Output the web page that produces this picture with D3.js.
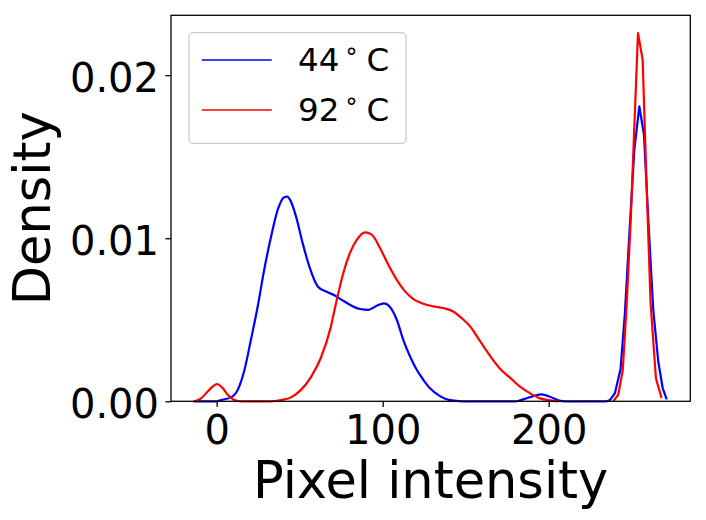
<!DOCTYPE html>
<meta charset="utf-8">
<style>
 body { margin: 0; background: #fff; }
 text { font-family: "DejaVu Sans", sans-serif; fill: #000; }
 .tick line { stroke: #000; stroke-width: 1.3; }
</style>
<body>
<script src="https://d3js.org/d3.v7.min.js"></script>
<script>

var width = 706
var height = 520

// KDE curves: [pixel intensity, density]
var blue44 = [
  [-14, 0], [0, 0], [2.6, 0.00008], [8.7, 0.00024], [12.7, 0.0007], [16.7, 0.0019],
  [20.7, 0.0038], [24.7, 0.0058], [28.7, 0.0081], [32.8, 0.0101], [36.8, 0.01175],
  [40.5, 0.0125], [42.5, 0.01255], [44.4, 0.01232], [47.8, 0.01134], [51.8, 0.0097],
  [55.8, 0.00827], [60.9, 0.00704], [65.9, 0.00673], [70.9, 0.0065], [74.9, 0.00625],
  [80.3, 0.00592], [86.4, 0.00566], [91.4, 0.00561], [96.4, 0.00586], [100.8, 0.006],
  [104.4, 0.00578], [108.5, 0.005], [112.4, 0.00377], [116.5, 0.00275], [120.5, 0.00193],
  [124.5, 0.00132], [128.5, 0.0008], [134.5, 0.00032], [140.6, 0.00007], [148, 0],
  [180, 0], [184.7, 0.00012], [190.7, 0.00032], [195.8, 0.00043], [200.8, 0.00028],
  [205.8, 0.00006], [210, 0], [235, 0], [236.9, 0.00007], [239.9, 0.0005], [243.3, 0.002],
  [245.9, 0.0054], [248.5, 0.0101], [251.6, 0.01543], [254.6, 0.01808], [257.4, 0.01635],
  [260, 0.01113], [263, 0.0056], [266, 0.00244], [268.7, 0.0008], [271.1, 0.00012]
]
var red92 = [
  [-13.4, 0], [-9.4, 0.00018], [-5.4, 0.0006], [-2.4, 0.0009], [0.2, 0.00106], [3.7, 0.0008],
  [6.7, 0.0004], [10.7, 0.00008], [15, 0], [32, 0], [38.8, 0.00008], [44.8, 0.00024],
  [50.8, 0.0007], [56.9, 0.0015], [62.9, 0.0027], [68.6, 0.0045], [72.3, 0.0062],
  [76.3, 0.00787], [80.3, 0.0091], [84.4, 0.0099], [89.4, 0.01036], [93.4, 0.01022],
  [98.4, 0.0094], [103.4, 0.00837], [108.5, 0.00745], [113.5, 0.00674], [118.5, 0.00627],
  [124.5, 0.00598], [130.5, 0.00582], [136.5, 0.00572], [142.5, 0.00551], [147.6, 0.0051],
  [152.6, 0.0046], [158.6, 0.0037], [164.6, 0.0028], [170.7, 0.002], [176.7, 0.00145],
  [182.7, 0.0009], [188.7, 0.0005], [194.8, 0.00018], [200.8, 0.00006], [206, 0],
  [238.9, 0], [241.9, 0.0004], [244.6, 0.0019], [247, 0.006], [249.4, 0.0111],
  [251.6, 0.01686], [253.8, 0.02258], [256.6, 0.02095], [259, 0.01318], [261.4, 0.006],
  [264.6, 0.0014], [268, 0.0002]
]

var xTicks = [0, 100, 200]
var yTicks = [0, 0.01, 0.02]
var seriesNames = ["44", "92"]
var seriesColors = ["#0000ff", "#ff0000"]

var box = {left: 171, right: 690.3, top: 15.3, bottom: 401.3}

var svg = d3.select("body")
			.append("svg")
			.attr("width", width)
			.attr("height", height);

var x = d3.scaleLinear().domain([-27.5, 285.3]).range([box.left, box.right]);
var y = d3.scaleLinear().domain([0, 0.02367]).range([box.bottom, box.top]);

// smooth where the samples are sparse, straight segments on the spike like the original
var line = d3.line()
  .x(function (d) { return x(d[0]); })
  .y(function (d) { return y(d[1]); })
  .curve(d3.curveMonotoneX);
var spike = d3.line()
  .x(function (d) { return x(d[0]); })
  .y(function (d) { return y(d[1]); });

[blue44, red92].forEach(function (s, i) {
  var body = s.filter(function (d) { return d[0] <= 236; });
  var peak = s.filter(function (d) { return d[0] >= 235; });
  svg.append("path")
    .datum(body)
    .attr("fill", "none")
    .attr("stroke", seriesColors[i])
    .attr("stroke-width", 2.2)
    .attr("stroke-linejoin", "round")
    .attr("d", line);
  svg.append("path")
    .datum(peak)
    .attr("fill", "none")
    .attr("stroke", seriesColors[i])
    .attr("stroke-width", 2.2)
    .attr("stroke-linejoin", "round")
    .attr("d", spike);
});

// axes
var xAxis = svg.append("g")
  .attr("transform", "translate(0," + box.bottom + ")")
  .call(d3.axisBottom(x).tickValues(xTicks).tickSize(5.6).tickPadding(9.2).tickFormat(d3.format("d")));
xAxis.select(".domain").remove();
xAxis.selectAll("text").style("font-size", "40px").attr("font-family", null);

var yAxis = svg.append("g")
  .attr("transform", "translate(" + box.left + ",0)")
  .call(d3.axisLeft(y).tickValues(yTicks).tickSize(5.6).tickPadding(6.4).tickFormat(d3.format(".2f")));
yAxis.select(".domain").remove();
yAxis.selectAll("text").style("font-size", "40px").attr("dy", "0.4em").attr("font-family", null);

// frame
svg.append("rect")
  .attr("x", box.left).attr("y", box.top)
  .attr("width", box.right - box.left).attr("height", box.bottom - box.top)
  .attr("fill", "none").attr("stroke", "#000").attr("stroke-width", 1.3);

// axis titles
svg.append("text")
  .attr("x", (box.left + box.right) / 2)
  .attr("y", 498.3)
  .attr("text-anchor", "middle")
  .style("font-size", "51px")
  .text("Pixel intensity");

svg.append("text")
  .attr("transform", "translate(49.5," + (box.top + box.bottom) / 2 + ") rotate(-90)")
  .attr("text-anchor", "middle")
  .style("font-size", "51px")
  .text("Density");

// legend
var legend = svg.append("g");
legend.append("rect")
  .attr("x", 189).attr("y", 32.7).attr("width", 217).attr("height", 110.6)
  .attr("rx", 4).attr("fill", "#fff").attr("fill-opacity", 0.8)
  .attr("stroke", "#cccccc").attr("stroke-width", 1.3);

seriesNames.forEach(function (name, i) {
  var yy = 60 + i * 50;
  legend.append("line")
    .attr("x1", 201.7).attr("x2", 271.7).attr("y1", yy).attr("y2", yy)
    .attr("stroke", seriesColors[i]).attr("stroke-width", 1.6);
  var t = legend.append("text")
    .attr("x", 298).attr("y", yy + 10.5)
    .style("font-size", "32.5px");
  t.append("tspan").text(name);
  t.append("tspan").attr("x", 345.5).attr("dy", -5).style("font-size", "24px").text("°");
  t.append("tspan").attr("x", 366.5).attr("dy", 5).text("C");
});

</script>
</body>
